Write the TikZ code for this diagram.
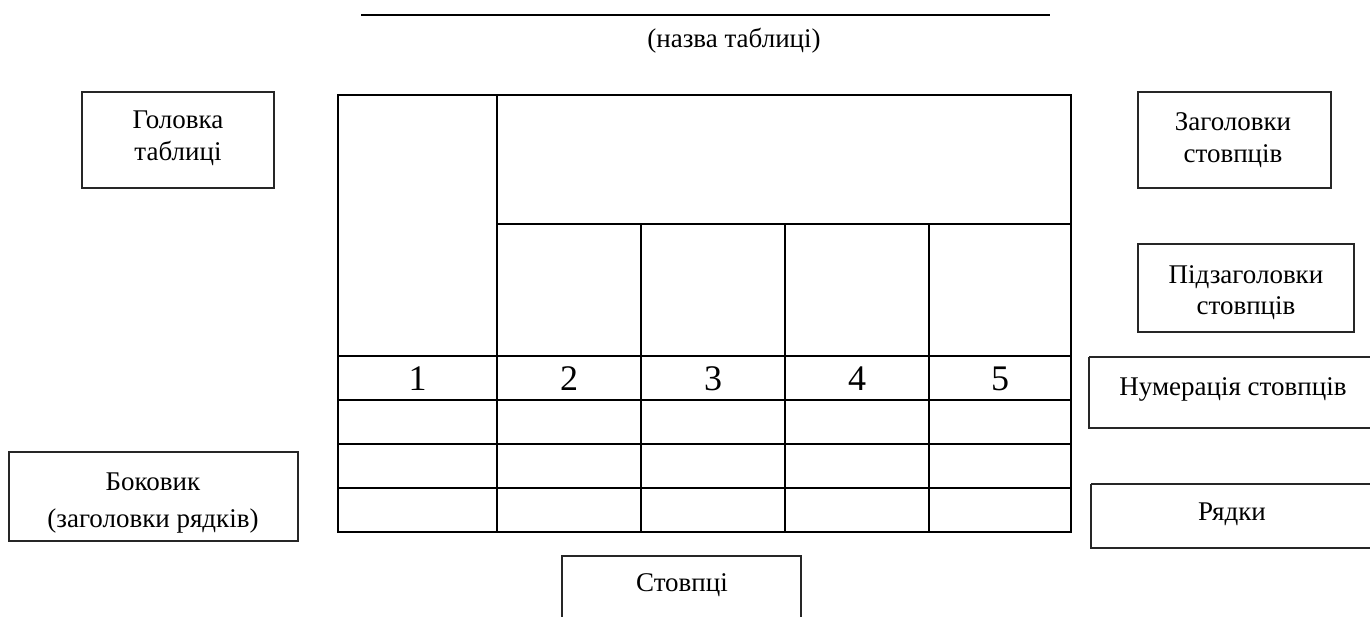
\documentclass[tikz,border=0pt]{standalone}
\usepackage{fontspec}
\setmainfont{Liberation Serif}
\begin{document}
\begin{tikzpicture}[x=1pt,y=-1pt,
  box/.style={draw=black!85,line width=1.6pt},
  tline/.style={draw=black,line width=2.2pt},
  lbl/.style={inner sep=0pt,anchor=base,font=\fontsize{27}{32}\selectfont},
  digit/.style={inner sep=0pt,anchor=base,font=\fontsize{36}{36}\selectfont}]
\useasboundingbox (0,0) rectangle (1370,616);
% title
\coordinate (tl) at (361,15);
\coordinate (tr) at (1050,15);
\draw[line width=2.8pt] (tl) -- (tr);
\node[lbl] (title) at (734,47) {(назва таблиці)};
% table
\draw[tline] (338,95) rectangle (1071,532);
\draw[tline] (497,95) -- (497,532);
\draw[tline] (497,224) -- (1071,224);
\foreach \x in {641,785,929} \draw[tline] (\x,224) -- (\x,532);
\foreach \y in {356,400,444,488} \draw[tline] (338,\y) -- (1071,\y);
\node[digit] (d1) at (417.5,390) {1};
\node[digit] (d2) at (569,390) {2};
\node[digit] (d3) at (713,390) {3};
\node[digit] (d4) at (857,390) {4};
\node[digit] (d5) at (1000,390) {5};
% boxes
\draw[box] (82,92) rectangle (274,188);
\node[lbl] (holovka1) at (178,128) {Головка};
\node[lbl] (holovka2) at (178,160) {таблиці};
\draw[box] (1138,92) rectangle (1331,188);
\node[lbl] (zag1) at (1233,130) {Заголовки};
\node[lbl] (zag2) at (1233,162) {стовпців};
\draw[box] (1138,244) rectangle (1354,332);
\node[lbl] (pidzag1) at (1246,283) {Підзаголовки};
\node[lbl] (pidzag2) at (1246,314) {стовпців};
\draw[box] (1089,357) -- (1375,357) (1089,357) -- (1089,428) -- (1375,428);
\node[lbl] (numer) at (1233,395) {Нумерація стовпців};
\draw[box] (1091,484) -- (1375,484) (1091,484) -- (1091,548) -- (1375,548);
\node[lbl] (riadky) at (1232,520) {Рядки};
\draw[box] (9,452) rectangle (298,541);
\node[lbl] (bokovyk1) at (153,490) {Боковик};
\node[lbl] (bokovyk2) at (153,527) {(заголовки рядків)};
\draw[box] (562,620) -- (562,556) -- (801,556) -- (801,620);
\node[lbl] (stovptsi) at (682,591) {Стовпці};
\end{tikzpicture}
\end{document}
